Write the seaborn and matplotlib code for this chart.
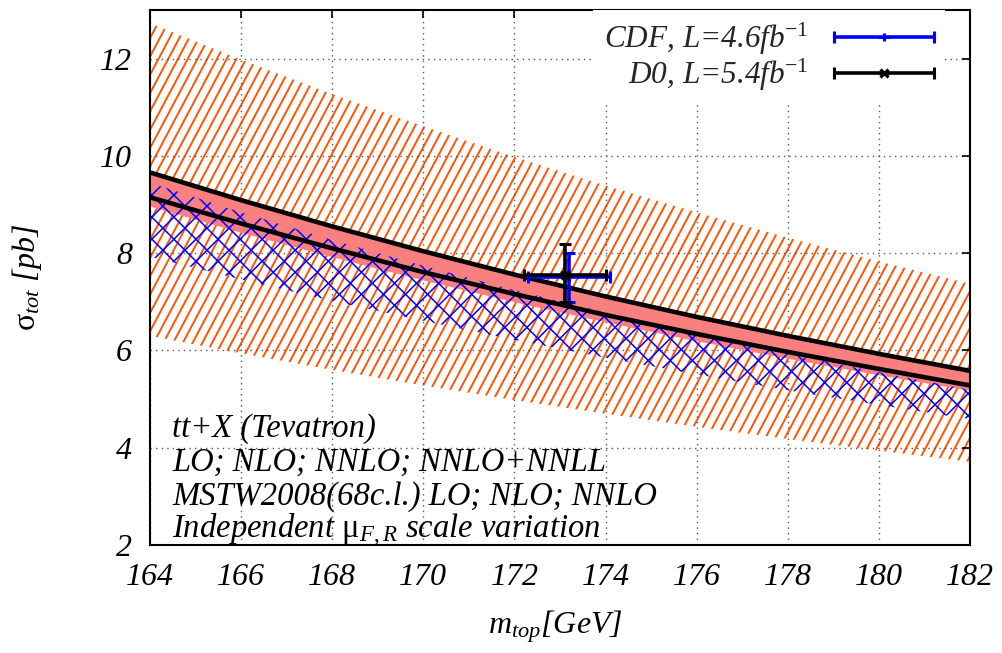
import numpy as np
import pandas as pd
import matplotlib
matplotlib.use("Agg")
import matplotlib.pyplot as plt
import seaborn as sns
from matplotlib.collections import LineCollection
from matplotlib.legend_handler import HandlerErrorbar

# ---------------- data ----------------
m_top = [164, 166, 168, 170, 172, 174, 176, 178, 180, 182]
# LO band (orange hatched)
lo_low = [6.30, 5.94, 5.60, 5.28, 4.98, 4.70, 4.43, 4.18, 3.94, 3.71]
lo_high = [12.73, 11.98, 11.27, 10.61, 9.98, 9.39, 8.84, 8.32, 7.83, 7.37]
# NLO band (blue cross-hatched)
nlo_low = [7.93, 7.46, 7.02, 6.61, 6.22, 5.85, 5.51, 5.18, 4.88, 4.59]
nlo_high = [9.45, 8.84, 8.27, 7.74, 7.24, 6.78, 6.34, 5.93, 5.55, 5.19]
# NNLO band (salmon)
nnlo_low = [8.96, 8.42, 7.92, 7.44, 6.99, 6.58, 6.19, 5.83, 5.49, 5.17]
nnlo_high = [9.66, 9.09, 8.55, 8.04, 7.56, 7.11, 6.69, 6.30, 5.93, 5.58]
# NNLO+NNLL band (black lines)
nnll_low = [9.15, 8.61, 8.10, 7.61, 7.16, 6.73, 6.34, 5.97, 5.62, 5.28]
nnll_high = [9.66, 9.09, 8.55, 8.04, 7.56, 7.11, 6.69, 6.30, 5.93, 5.58]

exp_labels = ["CDF, L=4.6fb$^{-1}$", "D0, L=5.4fb$^{-1}$"]
exp_mtop = [173.2, 173.1]
exp_mtop_err = [0.9, 0.9]
exp_sigma = [7.50, 7.56]
exp_err_lo = [0.50, 0.56]
exp_err_hi = [0.50, 0.63]

info_lines = ["tt+X (Tevatron)",
              "LO; NLO; NNLO; NNLO+NNLL",
              "MSTW2008(68c.l.) LO; NLO; NNLO",
              r"Independent $\mathrm{\mu}_{F,R}$ scale variation"]

x_ticks = [164, 166, 168, 170, 172, 174, 176, 178, 180, 182]
y_ticks = [2, 4, 6, 8, 10, 12]

# ---------------- style ----------------
sns.set_theme(style="white")
plt.rcParams.update({
    "font.family": ["Liberation Serif", "DejaVu Serif"],
    "font.style": "italic",
    "mathtext.fontset": "custom",
    "mathtext.rm": "Liberation Serif:style=normal",
    "mathtext.it": "Liberation Serif:style=italic",
    "mathtext.bf": "Liberation Serif:weight=bold",
    "axes.edgecolor": "black",
    "axes.linewidth": 1.5,
})

DPI = 100
fig = plt.figure(figsize=(10.03, 6.53), dpi=DPI)
L, R, B, T = 150, 970, 545, 10
ax = fig.add_axes([L / 1003, 1 - B / 653, (R - L) / 1003, (B - T) / 653])
AXW, AXH = R - L, B - T

df = pd.DataFrame({"m_top": m_top,
                   "nnll_low": nnll_low, "nnll_high": nnll_high})


def hatch_band(x, lo, hi, angles, spacing, color, lw, z):
    poly = ax.fill_between(x, lo, hi, facecolor="none", edgecolor="none",
                           linewidth=0, zorder=z)
    diag = np.hypot(AXW, AXH)
    c = np.array([AXW / 2, AXH / 2])
    for ang in angles:
        t = np.deg2rad(ang)
        d = np.array([np.cos(t), np.sin(t)])
        n = np.array([-d[1], d[0]])
        segs = []
        for k in np.arange(-diag, diag, spacing):
            p = c + n * k
            a, b = p - d * diag, p + d * diag
            segs.append([(a[0] / AXW, a[1] / AXH), (b[0] / AXW, b[1] / AXH)])
        lc = LineCollection(segs, colors=color, linewidths=lw,
                            transform=ax.transAxes, zorder=z)
        lc.set_clip_path(poly.get_paths()[0], ax.transData)
        ax.add_collection(lc, autolim=False)


# LO band: orange steep hatch
hatch_band(m_top, lo_low, lo_high, [62], 8.6, "#ff5500", 1.4, 1)
# NNLO salmon band
ax.fill_between(m_top, nnlo_low, nnlo_high, facecolor="#fa8080",
                edgecolor="none", linewidth=0, zorder=2)
# NLO band: blue cross hatch
hatch_band(m_top, nlo_low, nlo_high, [45, -45], 15.6, "#0000ff", 1.1, 3)

# NNLO+NNLL band edges
sns.lineplot(data=df, x="m_top", y="nnll_high", color="black", lw=3.3,
             ax=ax, zorder=5)
sns.lineplot(data=df, x="m_top", y="nnll_low", color="black", lw=3.3,
             ax=ax, zorder=5)

# measurements
colors = ["#0000ff", "black"]
markers = ["|", "x"]
handles = []
for i in range(2):
    h = ax.errorbar(exp_mtop[i], exp_sigma[i],
                    xerr=exp_mtop_err[i],
                    yerr=[[exp_err_lo[i]], [exp_err_hi[i]]],
                    fmt=markers[i], color=colors[i], ms=6, mew=2.2,
                    elinewidth=2.6, capsize=4.5, capthick=2.2,
                    label=exp_labels[i], zorder=7 + i)
    handles.append(h)

ax.set_xlim(164, 182)
ax.set_ylim(2, 13)
ax.set_xticks(x_ticks)
ax.set_yticks(y_ticks)
ax.set_xticklabels([str(v) for v in x_ticks])
ax.set_yticklabels([str(v) for v in y_ticks])
ax.tick_params(direction="in", length=6, width=1.2, top=True, right=True,
               labelsize=23, pad=13, colors="black")
ax.grid(True, color="#555555", linestyle=(0, (1, 3)), linewidth=1.0)
ax.set_axisbelow("line")

ax.set_xlabel(r"$m_{top}$[GeV]", fontsize=23, color="black")
ax.set_ylabel(r"$\mathrm{\sigma}_{tot}$ [pb]", fontsize=23, color="black")
ax.xaxis.set_label_coords((555 - L) / AXW, (B - 608) / AXH)
ax.yaxis.set_label_coords((44 - L) / AXW, 0.5)

leg = ax.legend(handles=handles, labels=exp_labels,
                loc="upper right", bbox_to_anchor=(0.969, 1.0),
                fontsize=22.5, markerfirst=False, frameon=True,
                framealpha=1, facecolor="white", edgecolor="none",
                handlelength=3.2, handletextpad=0.8, labelspacing=0.0,
                borderpad=0.35, borderaxespad=0.0, fancybox=False,
                handler_map={type(handles[0]): HandlerErrorbar(xerr_size=1.6,
                                                                 yerr_size=0)})
leg.set_zorder(10)

ys = [437, 471, 505, 538]
for s, py in zip(info_lines, ys):
    ax.text(22 / AXW, (B - py) / AXH, s, transform=ax.transAxes,
            fontsize=23.5, va="baseline", ha="left", color="black", zorder=11)

fig.savefig("out.png", dpi=DPI)
